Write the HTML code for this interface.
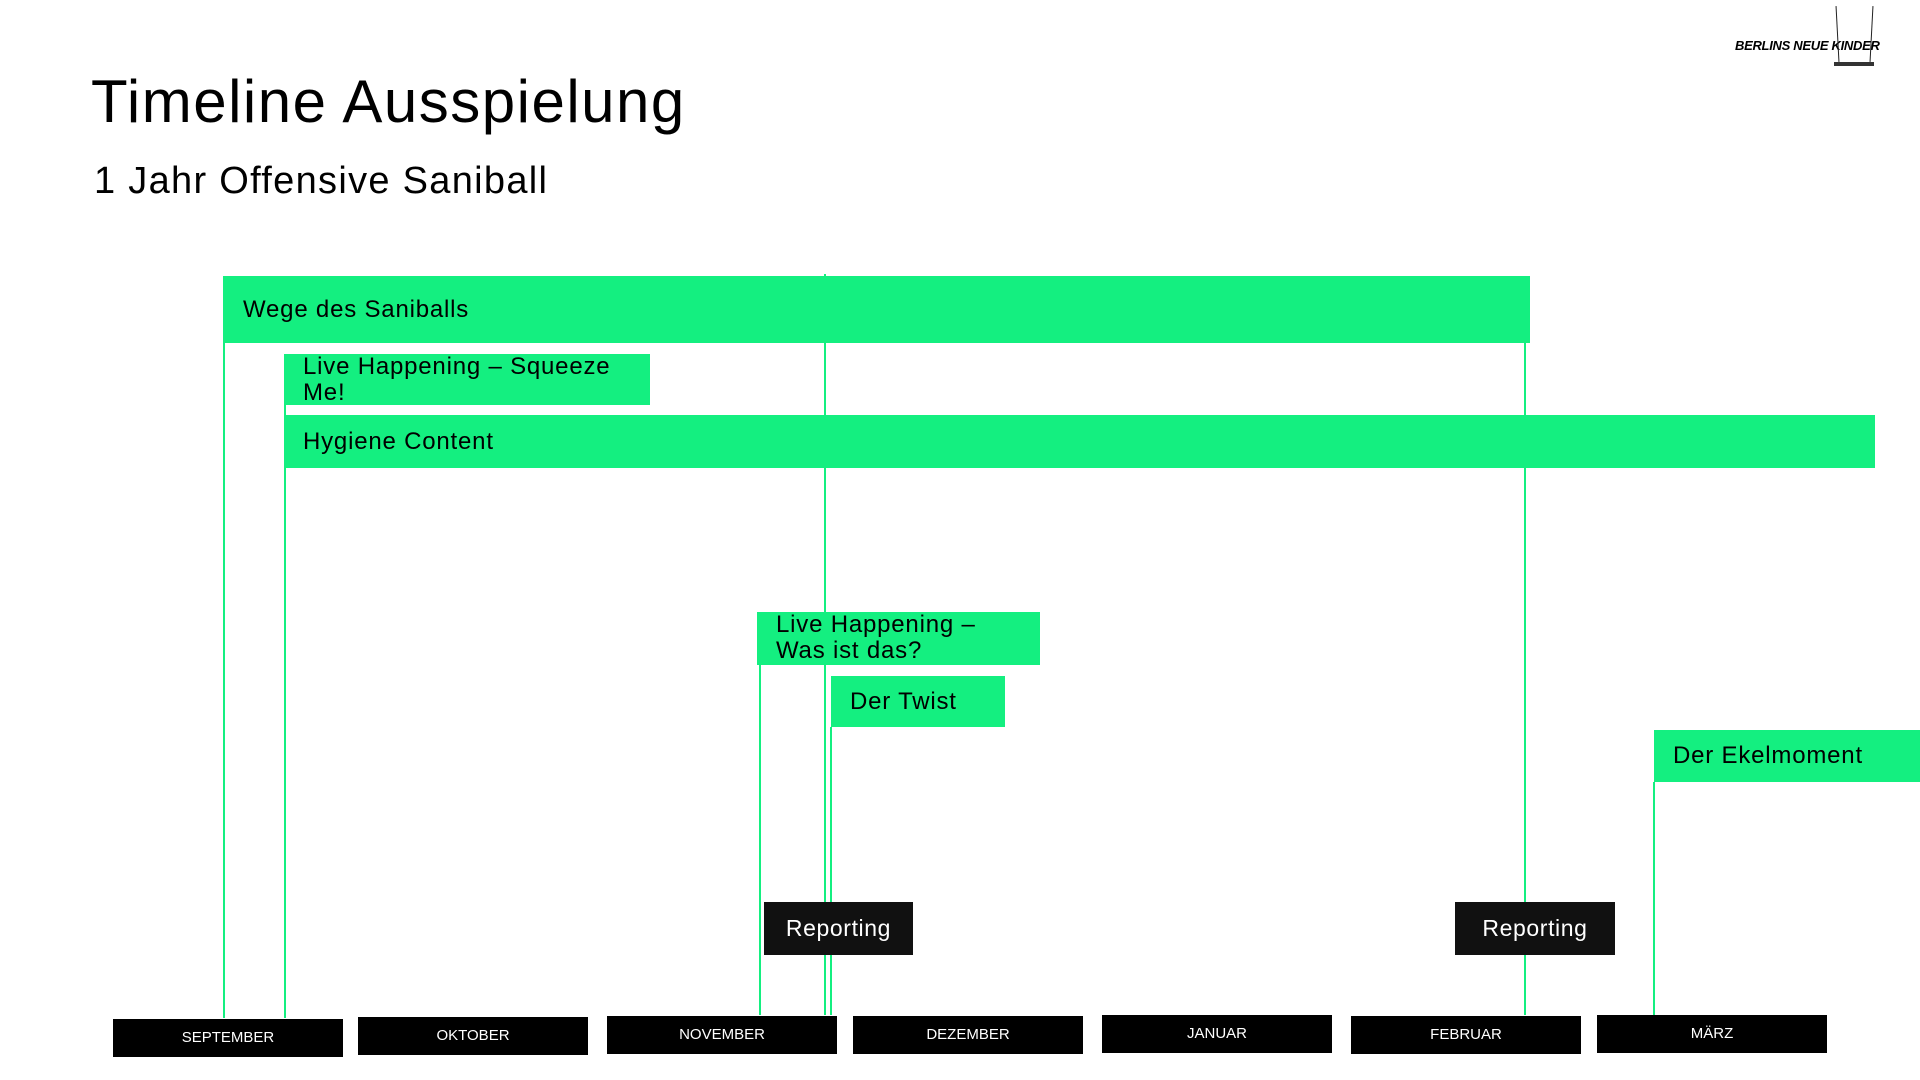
<!DOCTYPE html>
<html><head><meta charset="utf-8"><style>
body{margin:0;width:1920px;height:1080px;background:#fff;position:relative;overflow:hidden;font-family:"Liberation Sans",sans-serif}
.a{position:absolute}
.g{position:absolute;background:#14ef80;color:#000;font-size:24px;line-height:26px;box-sizing:border-box;padding-left:19px;display:flex;align-items:center;letter-spacing:0.8px}
.v{position:absolute;width:2px;background:#14ef80}
.m{position:absolute;background:#000;color:#fff;font-size:15px;text-align:center;width:230px;height:38px;line-height:38px}
.r{position:absolute;background:#111;color:#fff;font-size:23px;display:flex;align-items:center;justify-content:center;letter-spacing:0.6px}
</style></head><body>
<div class="a" style="left:91px;top:66px;font-size:60px;line-height:72px;letter-spacing:1.5px">Timeline Ausspielung</div>
<div class="a" style="left:94px;top:158px;font-size:38px;line-height:46px;letter-spacing:1.3px">1 Jahr Offensive Saniball</div>
<div class="a" style="left:1735px;top:38px;font-size:13px;font-weight:bold;font-style:italic;letter-spacing:-0.3px">BERLINS NEUE KINDER</div>
<div class="a" style="left:1837px;top:6px;width:1px;height:56px;background:#222;transform:rotate(-3deg)"></div>
<div class="a" style="left:1871px;top:6px;width:1px;height:56px;background:#222;transform:rotate(3deg)"></div>
<div class="a" style="left:1834px;top:62px;width:40px;height:4px;background:#333"></div>

<div class="v" style="left:223px;top:276px;height:742px"></div>
<div class="v" style="left:284px;top:405px;height:613px"></div>
<div class="v" style="left:824px;top:274px;height:741px"></div>
<div class="v" style="left:1524px;top:343px;height:672px"></div>
<div class="v" style="left:759px;top:665px;height:350px"></div>
<div class="v" style="left:830px;top:727px;height:288px"></div>
<div class="v" style="left:1653px;top:782px;height:233px"></div>

<div class="g" style="left:224px;top:276px;width:1306px;height:67px">Wege des Saniballs</div>
<div class="g" style="left:284px;top:354px;width:366px;height:51px;align-items:flex-start;padding-top:0">Live Happening – Squeeze<br>Me!</div>
<div class="g" style="left:284px;top:415px;width:1591px;height:53px">Hygiene Content</div>
<div class="g" style="left:757px;top:612px;width:283px;height:53px;align-items:flex-start">Live Happening –<br>Was ist das?</div>
<div class="g" style="left:831px;top:676px;width:174px;height:51px">Der Twist</div>
<div class="g" style="left:1654px;top:730px;width:266px;height:52px">Der Ekelmoment</div>

<div class="r" style="left:764px;top:902px;width:149px;height:53px">Reporting</div>
<div class="r" style="left:1455px;top:902px;width:160px;height:53px">Reporting</div>

<div class="m" style="left:113px;top:1019px">SEPTEMBER</div>
<div class="m" style="left:358px;top:1017px">OKTOBER</div>
<div class="m" style="left:607px;top:1016px">NOVEMBER</div>
<div class="m" style="left:853px;top:1016px">DEZEMBER</div>
<div class="m" style="left:1102px;top:1015px">JANUAR</div>
<div class="m" style="left:1351px;top:1016px">FEBRUAR</div>
<div class="m" style="left:1597px;top:1015px">MÄRZ</div>
</body></html>
